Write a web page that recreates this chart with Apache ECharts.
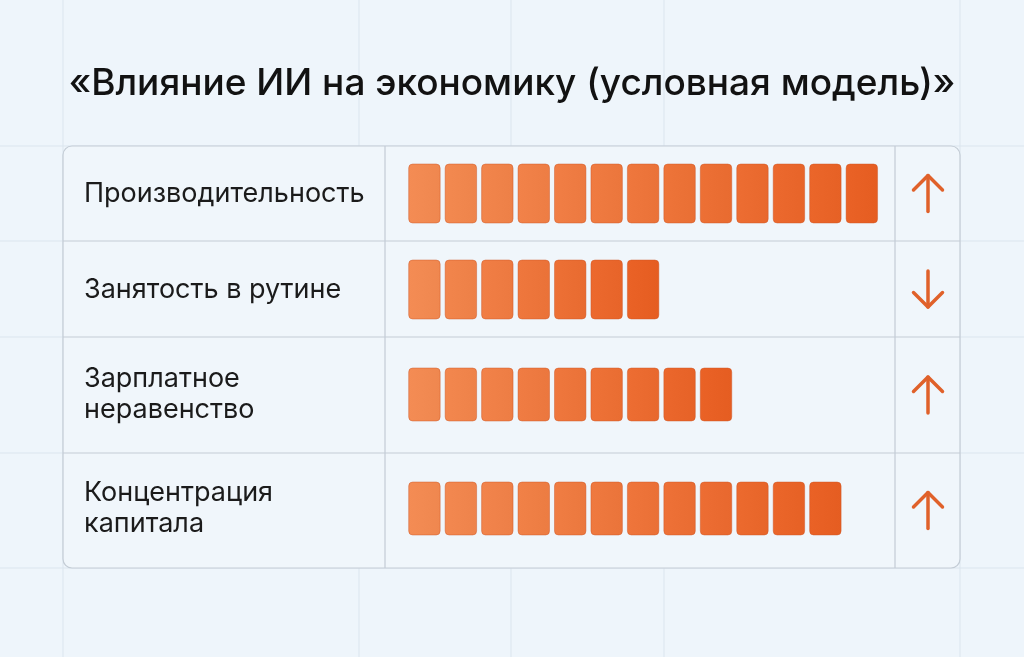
<!DOCTYPE html>
<html><head><meta charset="utf-8">
<script src="https://cdn.jsdelivr.net/npm/echarts@6/dist/echarts.min.js"></script>
<style>html,body{margin:0;padding:0;background:#eef5fb}#c{width:1024px;height:657px}</style>
</head><body><div id="c"></div>
<script>
const title = '«Влияние ИИ на экономику (условная модель)»';
const categories = ['Производительность', 'Занятость в рутине', 'Зарплатное\nнеравенство', 'Концентрация\nкапитала'];
const values = [13, 7, 9, 12];
const directions = ['up', 'down', 'up', 'up'];

// layout (pixels)
const rowTops = [146, 241, 337, 453, 568];
const blockTop = [164, 260, 368, 482];
const blockH = [59, 59, 53, 53];
const barLeft = 408.7, pitch = 36.45, gap = 5;
const maxUnits = 14;
const labelX = 84;
const panel = {x: 63, y: 146, w: 897, h: 422};
const colDiv = [385, 895];
const arrowX = 928;

const c0 = [241, 137, 81], c1 = [231, 95, 35];
function mix(t, d) {
  return 'rgb(' + c0.map((v, i) => Math.round(Math.max(0, Math.min(255, v + (c1[i] - v) * t + d)))).join(',') + ')';
}

const grids = [], xAxes = [], yAxes = [], series = [];
categories.forEach((cat, i) => {
  grids.push({left: barLeft, top: blockTop[i], width: pitch * maxUnits, height: blockH[i], containLabel: false});
  xAxes.push({gridIndex: i, type: 'value', min: 0, max: maxUnits, show: false});
  yAxes.push({gridIndex: i, type: 'category', data: [cat],
    axisLine: {show: false}, axisTick: {show: false},
    axisLabel: {show: true, align: 'left', margin: barLeft - labelX, fontFamily: 'Inter', fontSize: 27,
      color: '#1b1b1b', lineHeight: 31}});
  series.push({
    type: 'custom', xAxisIndex: i, yAxisIndex: i, data: [[values[i], 0]],
    encode: {x: 0, y: 1},
    renderItem: function (params, api) {
      const n = api.value(0);
      const bandH = api.size([0, 1])[1];
      const cy = api.coord([0, 0])[1];
      const children = [];
      for (let k = 0; k < n; k++) {
        const a = api.coord([k, 0])[0], b = api.coord([k + 1, 0])[0];
        const t = n > 1 ? k / (n - 1) : 0;
        children.push({
          type: 'rect',
          shape: {x: a, y: cy - bandH / 2, width: b - a - gap, height: bandH, r: 4},
          style: {
            fill: new echarts.graphic.LinearGradient(0, 0, 1, 0, [
              {offset: 0, color: mix(t, 3)}, {offset: 1, color: mix(t, -2)}]),
            stroke: 'rgba(205,85,35,0.45)', lineWidth: 1
          }
        });
      }
      return {type: 'group', children: children};
    }
  });
});

// graphics: background grid, panel, dividers, arrows
const graphic = [];
[63, 359, 511, 664, 960].forEach(x => graphic.push({type: 'line', shape: {x1: x, y1: 0, x2: x, y2: 657}, style: {stroke: '#dbe5ee', lineWidth: 1}, z: -10}));
[146, 241, 337, 453, 568].forEach(y => graphic.push({type: 'line', shape: {x1: 0, y1: y, x2: 1024, y2: y}, style: {stroke: '#dbe5ee', lineWidth: 1}, z: -10}));
graphic.push({type: 'rect', shape: {x: panel.x, y: panel.y, width: panel.w, height: panel.h, r: 9},
  style: {fill: '#f0f6fb', stroke: '#c3ccd5', lineWidth: 1.2}, z: -5});
colDiv.forEach(x => graphic.push({type: 'line', shape: {x1: x, y1: panel.y, x2: x, y2: panel.y + panel.h}, style: {stroke: '#c3ccd5', lineWidth: 1.2}, z: -4}));
rowTops.slice(1, 4).forEach(y => graphic.push({type: 'line', shape: {x1: panel.x, y1: y, x2: panel.x + panel.w, y2: y}, style: {stroke: '#c3ccd5', lineWidth: 1.2}, z: -4}));
directions.forEach((d, i) => {
  const cy = (rowTops[i] + rowTops[i + 1]) / 2;
  const s = d === 'up' ? -1 : 1;
  const tip = cy + s * 18, tail = cy - s * 18;
  graphic.push({type: 'polyline', shape: {points: [[arrowX, tail], [arrowX, tip]]},
    style: {stroke: '#e0612a', lineWidth: 3.5, lineCap: 'round', fill: null}});
  graphic.push({type: 'polyline', shape: {points: [[arrowX - 14.5, tip - s * 14.5], [arrowX, tip], [arrowX + 14.5, tip - s * 14.5]]},
    style: {stroke: '#e0612a', lineWidth: 3.5, lineCap: 'round', lineJoin: 'round', fill: null}});
});

const chart = echarts.init(document.getElementById('c'));
chart.setOption({
  backgroundColor: '#eef5fb',
  animation: false,
  title: {text: title, left: 'center', top: 60, textStyle: {fontFamily: 'Inter', fontSize: 37, fontWeight: 500, color: '#121212'}},
  grid: grids, xAxis: xAxes, yAxis: yAxes, series: series, graphic: graphic
});
</script></body></html>
